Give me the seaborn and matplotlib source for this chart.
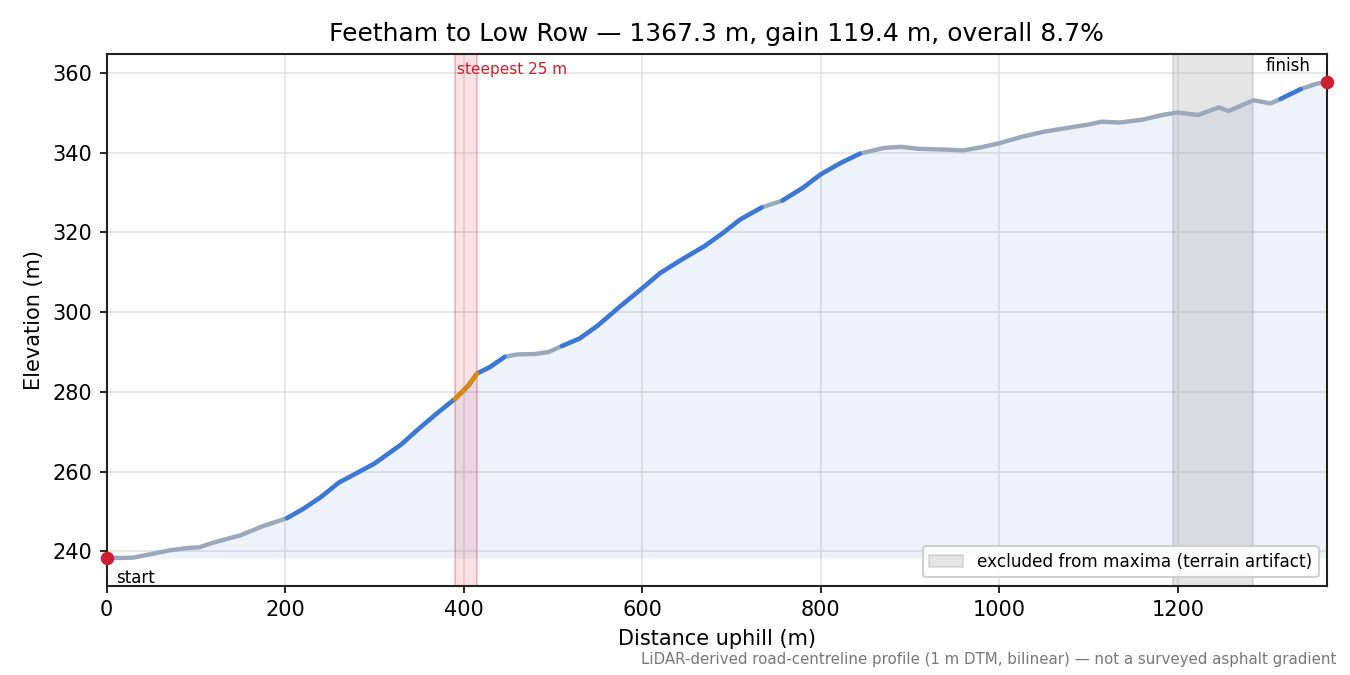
import numpy as np
import pandas as pd
import matplotlib
matplotlib.use('Agg')
import matplotlib.pyplot as plt
import seaborn as sns

# Profile (distance uphill in m, elevation in m)
dist = [0, 15, 30, 50, 70, 90, 104, 120, 150, 175, 190, 202, 220, 240, 260, 280,
        300, 310, 330, 350, 370, 390, 405, 415, 430, 446, 460, 480, 495, 510, 530,
        550, 575, 600, 620, 645, 670, 690, 710, 734, 757, 780, 800, 822, 844, 870,
        890, 910, 940, 960, 980, 1000, 1025, 1050, 1075, 1100, 1115, 1135, 1160,
        1185, 1200, 1223, 1246, 1257, 1285, 1304, 1315, 1338, 1355, 1367.3]
elev = [238.4, 238.3, 238.4, 239.3, 240.2, 240.8, 241.0, 242.2, 244.0, 246.3, 247.4,
        248.3, 250.6, 253.6, 257.2, 259.6, 262.0, 263.6, 266.8, 270.8, 274.6, 278.2,
        281.5, 284.6, 286.3, 288.8, 289.4, 289.5, 290.0, 291.5, 293.4, 296.6, 301.4,
        306.0, 309.8, 313.3, 316.6, 319.8, 323.3, 326.3, 328.0, 331.2, 334.6, 337.4,
        339.8, 341.2, 341.5, 341.0, 340.8, 340.6, 341.4, 342.4, 344.0, 345.3, 346.2,
        347.1, 347.8, 347.6, 348.3, 349.6, 350.1, 349.5, 351.4, 350.5, 353.2, 352.4,
        353.5, 356.0, 357.3, 357.8]

# Stretches drawn in blue (steeper sections)
steep_ranges = [(202, 446), (510, 734), (757, 844), (1315, 1338)]
steepest = (390, 415)
excluded = (1195, 1284)

df = pd.DataFrame({'dist': dist, 'elev': elev})
total = df['dist'].iloc[-1]
gain = df['elev'].iloc[-1] - df['elev'].iloc[0]

sns.set_style('ticks')
plt.rcParams['font.family'] = ['DejaVu Sans']
plt.rcParams['text.color'] = 'black'
plt.rcParams['axes.labelcolor'] = 'black'
plt.rcParams['xtick.color'] = 'black'
plt.rcParams['ytick.color'] = 'black'

fig, ax = plt.subplots(figsize=(9, 4.5), dpi=150)
fig.subplots_adjust(left=0.079, right=0.983, top=0.92, bottom=0.132)

ax.grid(True, color='#dddddd', linewidth=0.8, alpha=0.8)
ax.set_axisbelow(True)

ax.fill_between(df['dist'], df['elev'], df['elev'].min(), color='#3b78d6', alpha=0.09, linewidth=0)

grey = '#9aa8b9'
blue = '#3b78d6'
orange = '#e08a00'
lw = 2.1
sns.lineplot(data=df, x='dist', y='elev', color=grey, linewidth=lw, ax=ax, legend=False,
             solid_capstyle='round')
for a, b in steep_ranges:
    sub = df[(df['dist'] >= a) & (df['dist'] <= b)]
    sns.lineplot(data=sub, x='dist', y='elev', color=blue, linewidth=lw, ax=ax, legend=False)
sub = df[(df['dist'] >= steepest[0]) & (df['dist'] <= steepest[1])]
sns.lineplot(data=sub, x='dist', y='elev', color=orange, linewidth=lw, ax=ax, legend=False)

ax.axvspan(steepest[0], steepest[1], facecolor=(0.85, 0.15, 0.2, 0.13),
           edgecolor=(0.85, 0.15, 0.2, 0.3), linewidth=0.8)
ax.axvspan(excluded[0], excluded[1], facecolor='#b0b0b0', alpha=0.33,
           edgecolor='#999999', linewidth=0.8, label='excluded from maxima (terrain artifact)')

ax.scatter([df['dist'].iloc[0], df['dist'].iloc[-1]],
           [df['elev'].iloc[0], df['elev'].iloc[-1]],
           color='#cc1f2f', s=30, zorder=5, clip_on=False)

ax.set_xlim(0, total)
ax.set_ylim(df['elev'].min() - 7, df['elev'].max() + 7)

ax.text(10, df['elev'].min() - 5, 'start', fontsize=8, ha='left', va='center')
ax.text(total - 18, df['elev'].max() + 4.1, 'finish', fontsize=8, ha='right', va='center')
ax.text(steepest[0] + 3, 361, 'steepest 25 m', fontsize=7.3, color='#cc1f2f', ha='left', va='center')

ax.set_xlabel('Distance uphill (m)', fontsize=10)
ax.set_ylabel('Elevation (m)', fontsize=10)
ax.set_title(f'Feetham to Low Row \u2014 {total:.1f} m, gain {gain:.1f} m, overall {gain / total * 100:.1f}%',
             fontsize=12)
ax.legend(loc='lower right', fontsize=8.1, framealpha=0.9)

for s in ax.spines.values():
    s.set_color('#222222')
    s.set_linewidth(1.0)

fig.text(0.99, 0.012, 'LiDAR-derived road-centreline profile (1 m DTM, bilinear) \u2014 not a surveyed asphalt gradient',
         fontsize=7.2, color='#777777', ha='right', va='bottom')

fig.savefig('out.png', dpi=150)
